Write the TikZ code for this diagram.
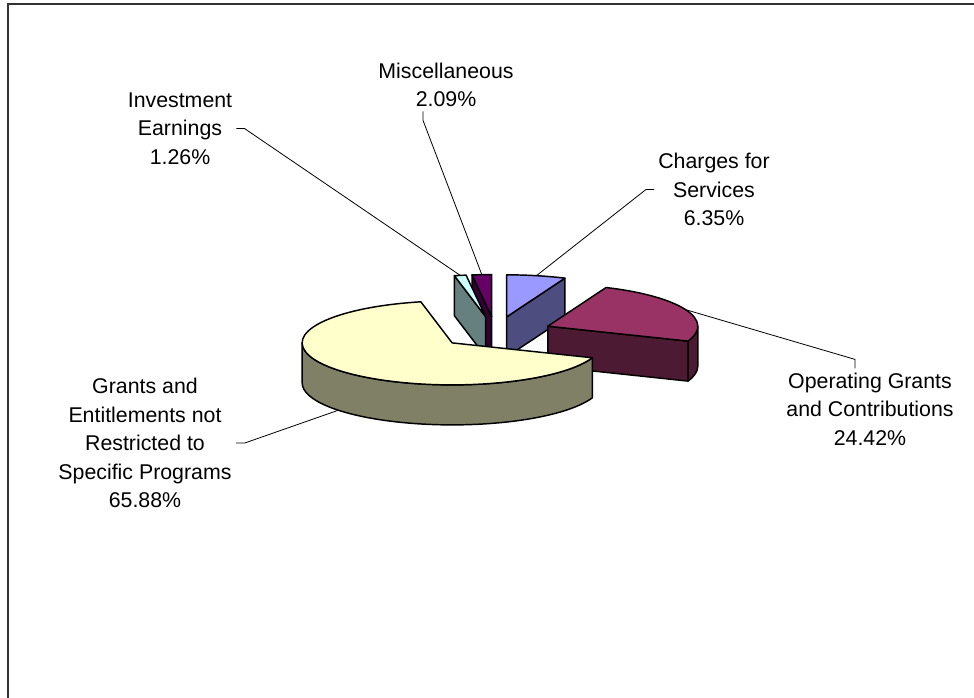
\documentclass[tikz,border=0pt]{standalone}
\usepackage{fontspec}
\setmainfont{Liberation Sans}
\usetikzlibrary{calc}

\definecolor{chgtop}{HTML}{9999FF}
\definecolor{chgside}{HTML}{4D4D80}
\definecolor{optop}{HTML}{993366}
\definecolor{opside}{HTML}{4D1A33}
\definecolor{grtop}{HTML}{FFFFCC}
\definecolor{grside}{HTML}{808066}
\definecolor{invtop}{HTML}{CCFFFF}
\definecolor{invside}{HTML}{668080}
\definecolor{misctop}{HTML}{660066}
\definecolor{miscside}{HTML}{330033}

\tikzset{
    slice/.style={draw=black, line width=1.1pt, line join=round},
    leader/.style={draw=black, line width=0.6pt},
    lbl/.style={align=center, inner sep=3pt, font=\fontsize{16}{21.4}\selectfont},
    frame/.style={draw=black!80, line width=1.2pt}
}

% top face, cut face and outer wall of one slice
\newcommand{\slicetop}[3]{\filldraw[slice, fill=#3] (0,0) -- ({\prx*cos(#1)},{\pry*sin(#1)}) arc[start angle=#1, end angle=#2, x radius=\prx, y radius=\pry] -- cycle;}
\newcommand{\sliceface}[2]{\filldraw[slice, fill=#2] (0,0) -- ({\prx*cos(#1)},{\pry*sin(#1)}) -- ++(0,-\pdepth) -- (0,-\pdepth) -- cycle;}
\newcommand{\sliceside}[3]{\filldraw[slice, fill=#3] ({\prx*cos(#1)},{\pry*sin(#1)}) arc[start angle=#1, end angle=#2, x radius=\prx, y radius=\pry] -- ++(0,-\pdepth) arc[start angle=#2, end angle=#1, x radius=\prx, y radius=\pry] -- cycle;}

\begin{document}
\begin{tikzpicture}[x=0.75pt, y=0.75pt]
    \useasboundingbox (0,0) rectangle (974,698);
    \def\prx{150} \def\pry{42} \def\pdepth{40} \def\pexpl{0.38}
    \coordinate (centre) at (495.4,365.5);

    \draw[frame] (8,0) -- (8,694) -- (974,694);

    \begin{scope}[shift={(centre)}, shift={({\pexpl*\prx*cos(93.76)},{\pexpl*\pry*sin(93.76)})}]
        \sliceface{97.524}{miscside}
        \slicetop{90}{97.524}{misctop}
        \coordinate (misctip) at ({\prx*cos(93.76)},{\pry*sin(93.76)});
    \end{scope}
    \begin{scope}[shift={(centre)}, shift={({\pexpl*\prx*cos(99.79)},{\pexpl*\pry*sin(99.79)})}]
        \sliceface{102.06}{invside}
        \slicetop{97.524}{102.06}{invtop}
        \coordinate (invtip) at ({\prx*cos(99.79)},{\pry*sin(99.79)});
    \end{scope}
    \begin{scope}[shift={(centre)}, shift={({\pexpl*\prx*cos(78.57)},{\pexpl*\pry*sin(78.57)})}]
        \sliceface{67.14}{chgside}
        \slicetop{67.14}{90}{chgtop}
        \coordinate (chgtip) at ({\prx*cos(78.57)},{\pry*sin(78.57)});
    \end{scope}
    \begin{scope}[shift={(centre)}, shift={({\pexpl*\prx*cos(23.184)},{\pexpl*\pry*sin(23.184)})}]
        \sliceside{-20.772}{0}{opside}
        \sliceface{-20.772}{opside}
        \slicetop{-20.772}{67.14}{optop}
        \coordinate (optip) at ({\prx*cos(23.184)},{\pry*sin(23.184)});
    \end{scope}
    \begin{scope}[shift={(centre)}, shift={({\pexpl*\prx*cos(220.644)},{\pexpl*\pry*sin(220.644)})}]
        \sliceside{180}{339.228}{grside}
        \slicetop{102.06}{339.228}{grtop}
        \coordinate (grtip) at ({\prx*cos(220.644)},{\pry*sin(220.644)-\pdepth});
    \end{scope}

    \node[lbl] (misclbl) at (446,613) {Miscellaneous\\2.09\%};
    \node[lbl] (invlbl) at (180,569.5) {Investment\\Earnings\\1.26\%};
    \node[lbl] (chglbl) at (714,508.5) {Charges for\\Services\\6.35\%};
    \node[lbl] (oplbl) at (870,289) {Operating Grants\\and Contributions\\24.42\%};
    \node[lbl] (grlbl) at (145,255) {Grants and\\Entitlements not\\Restricted to\\Specific Programs\\65.88\%};

    \draw[leader] ($(misclbl.south)+(-23,0)$) -- ++(0,-9) -- (misctip);
    \draw[leader] (invlbl.east) -- ++(8,0) -- (invtip);
    \draw[leader] (chglbl.west) -- ++(-8,0) -- (chgtip);
    \draw[leader] ($(oplbl.north)+(-15,0)$) -- ++(0,9) -- (optip);
    \draw[leader] (grlbl.east) -- ++(9,0) -- (grtip);
\end{tikzpicture}
\end{document}
